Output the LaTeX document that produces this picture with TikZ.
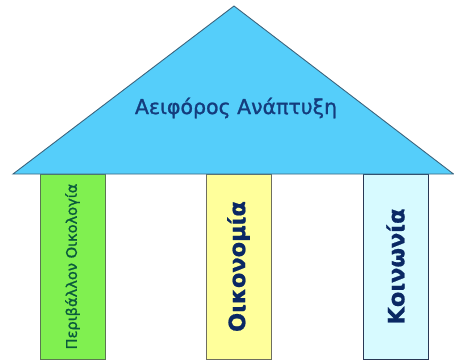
\documentclass[tikz,border=0pt]{standalone}
\usepackage{fontspec}
\setmainfont{DejaVu Sans}
\newfontfamily\heavyfont[FakeBold=1.2]{DejaVu Sans}
\newfontfamily\extraboldfont[FakeBold=0.8]{DejaVu Sans Bold}
\definecolor{roofblue}{RGB}{85,206,250}
\definecolor{roofline}{RGB}{60,100,125}
\definecolor{pgreen}{RGB}{128,240,80}
\definecolor{pgreenline}{RGB}{90,120,80}
\definecolor{pyellow}{RGB}{255,255,155}
\definecolor{pyellowline}{RGB}{110,110,95}
\definecolor{pcyan}{RGB}{215,250,255}
\definecolor{pcyanline}{RGB}{40,55,85}
\definecolor{titleblue}{RGB}{20,60,125}
\definecolor{textgreen}{RGB}{10,90,60}
\definecolor{textnavy}{RGB}{10,40,100}
\tikzset{
  pillar/.style={draw, line width=0.9pt, minimum width=65pt, minimum height=185pt, inner sep=0pt},
  roof/.style={draw=roofline, fill=roofblue, line width=0.9pt, line join=miter},
  pillartext/.style={rotate=90, inner sep=0pt}
}
\begin{document}
\begin{tikzpicture}[x=1pt,y=1pt]
\useasboundingbox (0,0) rectangle (454,360);
% pillars
\node[pillar, fill=pgreen, draw=pgreenline] (p1) at (72.5,93.5) {};
\node[pillar, fill=pyellow, draw=pyellowline] (p2) at (238.5,93.5) {};
\node[pillar, fill=pcyan, draw=pcyanline] (p3) at (395.5,93.5) {};
% roof
\coordinate (apex) at (234,354);
\coordinate (bl) at (13,186);
\coordinate (br) at (453.5,186);
\draw[roof] (bl) -- (apex) -- (br) -- cycle;
\node[text=titleblue, font=\heavyfont\fontsize{20.5}{24}\selectfont] (title) at (236,252) {Αειφόρος Ανάπτυξη};
% pillar texts
\node[pillartext, text=textgreen, font=\heavyfont\fontsize{14.6}{17}\selectfont] (t1) at (p1.center) {Περιβάλλον Οικολογία};
\node[pillartext, text=textnavy, font=\extraboldfont\fontsize{22.5}{26}\selectfont] (t2) at (p2.center) {Οικονομία};
\node[pillartext, text=textnavy, font=\extraboldfont\fontsize{22.5}{26}\selectfont] (t3) at (p3.center) {Κοινωνία};
\end{tikzpicture}
\end{document}
